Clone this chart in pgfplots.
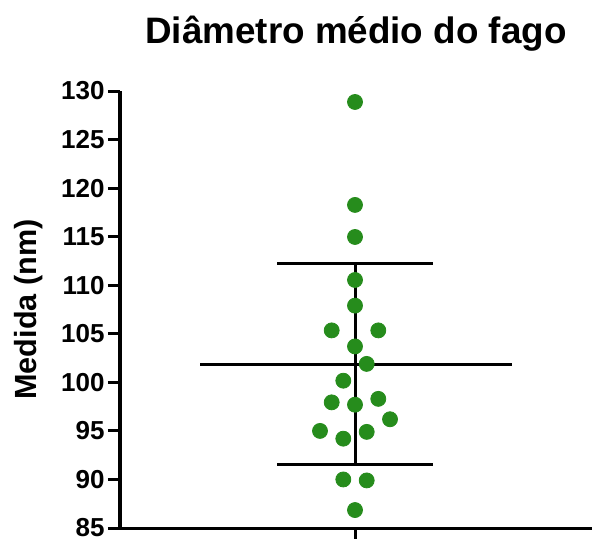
\documentclass[border=0pt]{standalone}
\usepackage{fontspec}
\setmainfont{Liberation Sans}
\usepackage{pgfplots}
\pgfplotsset{compat=1.18}
\definecolor{dotgreen}{RGB}{38,140,28}
\begin{document}
\begin{tikzpicture}
\begin{axis}[
  at={(0pt,0pt)}, anchor=south west,
  scale only axis, width=236pt, height=218.5pt,
  xmin=-235, xmax=237, ymin=85, ymax=130,
  axis x line=bottom, axis y line=left,
  axis line style={-, line width=1.5pt, black},
  ytick={85,90,...,130}, xtick={0}, xticklabels={},
  tick align=outside, major tick length=6pt,
  tick style={line width=1.5pt, black},
  yticklabel style={font=\fontsize{13}{15}\selectfont\bfseries, inner xsep=1.5pt},
  /pgf/number format/assume math mode=true,
  title={Diâmetro médio do fago},
  title style={at={(axis description cs:0.5,1)}, anchor=base, yshift=18pt, font=\fontsize{18.4}{22}\selectfont\bfseries},
  ylabel={Medida (nm)},
  ylabel style={at={([xshift=-41.5pt]axis description cs:0,0.5)}, anchor=base, font=\fontsize{15.3}{18}\selectfont\bfseries},
  clip=false,
]
\addplot[only marks, mark=*, mark size=3.75pt, mark options={draw=dotgreen, fill=dotgreen}] coordinates {
(0,128.87) (0,118.27) (0,114.97) (0,110.54) (0,107.9)
(-23.3,105.35) (23.3,105.35) (0,103.7) (11.7,101.9) (-11.7,100.17)
(-23.3,97.94) (0,97.7) (23.3,98.3) (35,96.2) (-35,95.0)
(-11.7,94.2) (11.7,94.9) (-11.7,90.0) (11.7,89.9) (0,86.85)
};
\addplot[black, line width=1.5pt] coordinates {(-155,101.88) (157,101.88)};
\addplot[black, line width=1.5pt] coordinates {(-78,112.26) (78,112.26)};
\addplot[black, line width=1.5pt] coordinates {(-78,91.56) (78,91.56)};
\addplot[black, line width=1.5pt] coordinates {(0,91.56) (0,112.26)};
\end{axis}
\pgfresetboundingbox
\path (-60pt,-5pt) rectangle (236pt,264pt);
\end{tikzpicture}
\end{document}
